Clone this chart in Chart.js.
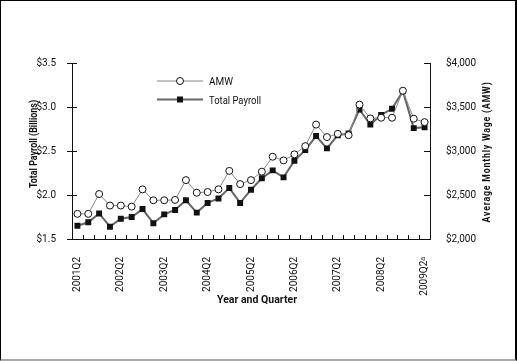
<!DOCTYPE html>
<html>
<head>
<meta charset="utf-8">
<script src="https://cdn.jsdelivr.net/npm/chart.js@4"></script>
<style>
  html, body { margin: 0; padding: 0; background: #fff; }
  #frame {
    width: 517px; height: 361px; box-sizing: border-box;
    border-top: 1px solid #000; border-left: 1px solid #000;
    border-right: 2px solid #000; border-bottom: 2px solid #aaa;
  }
  #chart { display: block; }
</style>
</head>
<body>
<div id="frame"><canvas id="chart" width="514" height="358"></canvas></div>
<script>
'use strict';

/* ── data ─────────────────────────────────── */
const quarters = [
    '2001Q2', '2001Q3', '2001Q4',
    '2002Q1', '2002Q2', '2002Q3', '2002Q4',
    '2003Q1', '2003Q2', '2003Q3', '2003Q4',
    '2004Q1', '2004Q2', '2004Q3', '2004Q4',
    '2005Q1', '2005Q2', '2005Q3', '2005Q4',
    '2006Q1', '2006Q2', '2006Q3', '2006Q4',
    '2007Q1', '2007Q2', '2007Q3', '2007Q4',
    '2008Q1', '2008Q2', '2008Q3', '2008Q4',
    '2009Q1', '2009Q2\u1D43',
];

// average monthly wage, dollars (right axis)
const amw = [
    2286, 2286, 2511, 2380, 2380, 2368, 2564, 2440, 2440, 2444,
    2669, 2526, 2534, 2564, 2774, 2624, 2669, 2765, 2935, 2893,
    2962, 3055, 3300, 3158, 3195, 3180, 3527, 3370, 3378, 3378,
    3685, 3367, 3328,
];

// total payroll, billions of dollars (left axis)
const totalPayroll = [
    1.65, 1.69, 1.79, 1.64, 1.73, 1.75, 1.84, 1.68, 1.78, 1.83,
    1.94, 1.80, 1.91, 1.96, 2.08, 1.91, 2.06, 2.19, 2.28, 2.20,
    2.39, 2.51, 2.67, 2.53, 2.68, 2.70, 2.97, 2.80, 2.91, 2.98,
    3.18, 2.76, 2.77,
];

const payrollTicks = [1.5, 2.0, 2.5, 3.0, 3.5];
const wageTicks = [2000, 2500, 3000, 3500, 4000];

/* ── theme ────────────────────────────────── */
const FONT = "Roboto, 'Liberation Sans', sans-serif";
const INK = '#111';

/* ── decorations: tick marks, axis titles, legend ── */
const decorations = {
    id: 'decorations',
    afterDraw(chart) {
        const { ctx, chartArea: a, scales } = chart;
        ctx.save();

        // x ticks point up into the plot, left ticks cross the axis,
        // right ticks point in
        ctx.strokeStyle = INK;
        ctx.lineWidth = 1;
        ctx.beginPath();
        const step = (a.right - a.left) / quarters.length;
        for (let i = 1; i < quarters.length; i++) {
            const x = Math.round(a.left + i * step) + 0.5;
            ctx.moveTo(x, a.bottom);
            ctx.lineTo(x, a.bottom - 4);
        }
        payrollTicks.forEach(v => {
            const y = Math.round(scales.y.getPixelForValue(v)) + 0.5;
            ctx.moveTo(a.left - 5, y);
            ctx.lineTo(a.left + 5, y);
        });
        wageTicks.forEach(v => {
            const y = Math.round(scales.y1.getPixelForValue(v)) + 0.5;
            ctx.moveTo(a.right, y);
            ctx.lineTo(a.right - 6, y);
        });
        ctx.stroke();

        // axis titles (squeezed to the condensed face of the original)
        ctx.fillStyle = INK;
        ctx.font = `bold 11px ${FONT}`;
        ctx.textAlign = 'center';
        ctx.textBaseline = 'middle';
        ctx.fillText('Year and Quarter', 256, 299, 80);

        ctx.save();
        ctx.translate(33, 143);
        ctx.rotate(-Math.PI / 2);
        ctx.fillText('Total Payroll (Billions)', 0, 0, 88);
        ctx.restore();

        ctx.save();
        ctx.translate(486, 151);
        ctx.rotate(-Math.PI / 2);
        ctx.letterSpacing = '1px';
        ctx.fillText('Average Monthly Wage (AMW)', 0, 0, 141);
        ctx.restore();

        // legend
        const items = [
            { label: 'AMW', y: 80, line: '#888', width: 1, marker: 'circle', w: 24 },
            { label: 'Total Payroll', y: 98.5, line: '#666', width: 2, marker: 'rect', w: 52 },
        ];
        ctx.font = `11px ${FONT}`;
        ctx.textAlign = 'left';
        items.forEach(it => {
            ctx.strokeStyle = it.line;
            ctx.lineWidth = it.width;
            ctx.beginPath();
            ctx.moveTo(156, it.y);
            ctx.lineTo(202, it.y);
            ctx.stroke();
            ctx.lineWidth = 1;
            if (it.marker === 'circle') {
                ctx.fillStyle = '#fff';
                ctx.strokeStyle = INK;
                ctx.beginPath();
                ctx.arc(179, it.y, 3.5, 0, Math.PI * 2);
                ctx.fill();
                ctx.stroke();
            } else {
                ctx.fillStyle = INK;
                ctx.fillRect(176, it.y - 3, 6, 6);
            }
            ctx.fillStyle = INK;
            ctx.fillText(it.label, 208, it.y + 1.5, it.w);
        });

        ctx.restore();
    },
};

/* ── chart ────────────────────────────────── */
const tickFont = { family: FONT, size: 10 };

new Chart(document.getElementById('chart').getContext('2d'), {
    type: 'line',
    data: {
        labels: quarters,
        datasets: [
            {
                label: 'AMW',
                data: amw,
                yAxisID: 'y1',
                borderColor: '#888',
                borderWidth: 1,
                pointStyle: 'circle',
                pointRadius: 3.5,
                pointBackgroundColor: '#fff',
                pointBorderColor: INK,
                pointBorderWidth: 1,
                tension: 0,
            },
            {
                label: 'Total Payroll',
                data: totalPayroll,
                yAxisID: 'y',
                borderColor: '#666',
                borderWidth: 2,
                pointStyle: 'rect',
                pointRadius: 4.2,
                pointBackgroundColor: INK,
                pointBorderColor: INK,
                pointBorderWidth: 0,
                tension: 0,
            },
        ],
    },
    options: {
        responsive: false,
        animation: false,
        layout: { padding: { top: 62, left: 0, right: 0, bottom: 0 } },
        plugins: {
            legend: { display: false },
            tooltip: { enabled: false },
        },
        scales: {
            x: {
                type: 'category',
                offset: true,
                grid: { display: false },
                border: { display: true, color: INK, width: 1 },
                ticks: {
                    autoSkip: false,
                    minRotation: 90,
                    maxRotation: 90,
                    padding: 10,
                    color: INK,
                    font: tickFont,
                    callback(value, index) {
                        return index % 4 === 0 ? quarters[index] : '';
                    },
                },
                afterFit(scale) { scale.height = 120; },
            },
            y: {
                position: 'left',
                min: 1.5,
                max: 3.5,
                grid: { display: false },
                border: { display: true, color: INK, width: 1 },
                afterBuildTicks(scale) {
                    scale.ticks = payrollTicks.map(v => ({ value: v }));
                },
                ticks: {
                    padding: 8,
                    color: INK,
                    font: tickFont,
                    callback: v => '$' + Number(v).toFixed(1),
                },
                afterFit(scale) { scale.width = 71; },
            },
            y1: {
                position: 'right',
                min: 2000,
                max: 4000,
                grid: { display: false },
                border: { display: true, color: INK, width: 1 },
                afterBuildTicks(scale) {
                    scale.ticks = wageTicks.map(v => ({ value: v }));
                },
                ticks: {
                    padding: 8,
                    color: INK,
                    font: tickFont,
                    callback: v => '$' + Number(v).toLocaleString('en-US'),
                },
                afterFit(scale) { scale.width = 85; },
            },
        },
    },
    plugins: [decorations],
});
</script>
</body>
</html>
